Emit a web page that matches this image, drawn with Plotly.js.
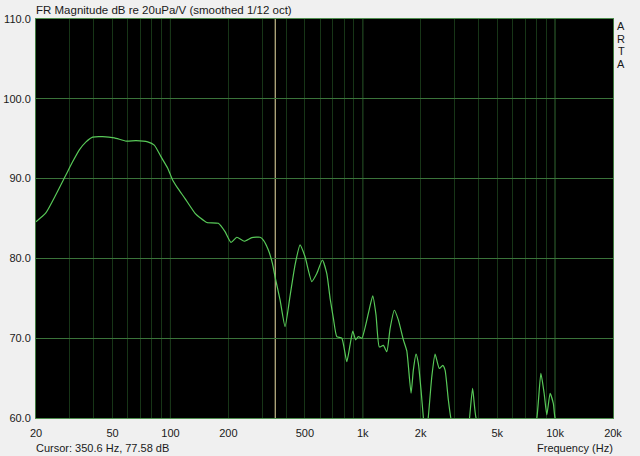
<!DOCTYPE html>
<html>
<head>
<meta charset="utf-8">
<script src="https://cdn.plot.ly/plotly-3.0.1.min.js"></script>
<style>html,body{margin:0;padding:0;background:#f0f0f0;}#chart{width:640px;height:456px;}</style>
</head>
<body>
<div id="chart"></div>
<script>
// Frequency (Hz) of curve samples
const freqHz = [20, 22.5, 25.4, 28.6, 31.0, 33.6, 36.4, 39.4, 44.4, 51.1,
  58.8, 66.2, 76.2, 82.4, 89.3, 96.8, 102.8, 109.1, 119.1, 134.3,
  142.5, 154.5, 177.4, 192.3, 206.6, 221.3, 242.2, 264.8, 292.4, 304.2,
  322.9, 338.8, 350.6, 371.5, 394.5, 418.8, 444.6, 472.0, 501.2, 543.2,
  576.7, 616.6, 650.2, 676.2, 703.2, 732.8, 778.0, 826.0, 859.0, 887.2,
  918.4, 948.4, 988.6, 1069, 1127, 1172, 1219, 1279, 1334, 1387,
  1459, 1531, 1626, 1694, 1783, 1832, 1892, 1945, 2009, 2066,
  2118, 2193, 2286, 2377, 2500, 2606, 2679, 2786, 2870, 3206,
  3483, 3590, 3724, 3882, 4592, 5834, 7413, 8035, 8433, 8770,
  9057, 9419, 9795, 10000, 11970, 15210, 20000];
// Magnitude (dB re 20uPa/V)
const magDb = [84.6, 85.7, 88.0, 90.45, 92.1, 93.6, 94.6, 95.2, 95.25, 95.1,
  94.7, 94.75, 94.6, 94.2, 92.75, 91.3, 89.8, 88.8, 87.5, 85.65,
  85.1, 84.5, 84.4, 83.35, 82.0, 82.65, 82.15, 82.6, 82.65, 82.3,
  81.05, 79.4, 77.58, 74.8, 71.45, 75.3, 79.2, 81.7, 80.2, 77.1,
  78.1, 79.8, 78.1, 75.0, 72.5, 70.2, 70.0, 67.05, 69.15, 70.9,
  69.8, 70.2, 70.0, 73.1, 75.3, 72.9, 68.9, 69.1, 68.3, 71.2,
  73.5, 72.3, 69.8, 68.4, 63.1, 66.0, 68.0, 66.85, 63.5, 60.0,
  57, 60.2, 65.2, 68.0, 66.2, 66.6, 66.0, 62.25, 60.0, 55,
  57.5, 60.0, 63.7, 60.0, 56, 55, 57, 60.0, 65.6, 63.1,
  60.4, 63.1, 61.8, 60.0, 56, 54, 53];

const xTickVals = [20, 50, 100, 200, 500, 1000, 2000, 5000, 10000, 20000];
const xTickText = ['20', '50', '100', '200', '500', '1k', '2k', '5k', '10k', '20k'];
const decadeLines = [100, 1000, 10000];
const cursorFreq = 350.6;
const cursorDb = 77.58;

// gridline positions: 1..9 x each decade from 20 Hz to 20 kHz
const gridVals = [];
[10, 100, 1000, 10000].forEach(d => {
  for (let m = 1; m <= 9; m++) { const v = m * d; if (v >= 20 && v <= 20000) gridVals.push(v); }
});
const gridText = gridVals.map(v => { const i = xTickVals.indexOf(v); return i >= 0 ? xTickText[i] : ''; });

const FONT = 'Liberation Sans, Arial, sans-serif';
const TXT = '#1a1a1a';

const shapes = decadeLines.map(f => ({
  type: 'line', xref: 'x', yref: 'paper', x0: f, x1: f, y0: 0, y1: 1,
  line: {color: '#3f7a3f', width: 1}, layer: 'between'
}));
shapes.push({type: 'line', xref: 'x', yref: 'paper', x0: cursorFreq, x1: cursorFreq, y0: 0, y1: 1,
  line: {color: '#ece0a6', width: 1}, layer: 'between'});

const annotations = [
  {text: 'FR Magnitude dB re 20uPa/V (smoothed 1/12 oct)', xref: 'paper', yref: 'paper', x: 0, y: 1,
   xanchor: 'left', yanchor: 'middle', yshift: 9, xshift: -2, showarrow: false, font: {family: FONT, size: 11.5, color: TXT}},
  {text: 'Cursor: ' + cursorFreq + ' Hz, ' + cursorDb + ' dB', xref: 'paper', yref: 'paper', x: 0, y: 0,
   xanchor: 'left', yanchor: 'middle', yshift: -30, xshift: -2, showarrow: false, font: {family: FONT, size: 11, color: TXT}},
  {text: 'Frequency (Hz)', xref: 'paper', yref: 'paper', x: 1, y: 0,
   xanchor: 'right', yanchor: 'middle', yshift: -30, xshift: 2, showarrow: false, font: {family: FONT, size: 11, color: TXT}}
];
['A', 'R', 'T', 'A'].forEach((ch, i) => annotations.push({
  text: ch, xref: 'paper', yref: 'paper', x: 1, y: 1, xanchor: 'center', yanchor: 'middle',
  xshift: 8, yshift: -(7 + 12.5 * i), showarrow: false, font: {family: FONT, size: 11, color: TXT}
}));

const trace = {
  x: freqHz, y: magDb, type: 'scatter', mode: 'lines',
  line: {color: '#58c958', width: 1.2, shape: 'spline', smoothing: 0.5}, hoverinfo: 'skip'
};

const layout = {
  width: 640, height: 456,
  margin: {l: 36, r: 27, t: 19, b: 38},
  paper_bgcolor: '#f0f0f0', plot_bgcolor: '#000000',
  showlegend: false,
  font: {family: FONT, size: 11, color: TXT},
  xaxis: {
    type: 'log', range: [Math.log10(20), Math.log10(20000)],
    tickmode: 'array', tickvals: gridVals, ticktext: gridText,
    showgrid: true, gridcolor: '#173517', gridwidth: 1,
    ticks: 'outside', ticklen: 5, tickcolor: 'rgba(0,0,0,0)',
    showline: true, mirror: true, linecolor: '#4f8f4f', linewidth: 1,
    zeroline: false, fixedrange: true
  },
  yaxis: {
    range: [60, 110], tickmode: 'array', tickvals: [60, 70, 80, 90, 100, 110],
    ticktext: ['60.0', '70.0', '80.0', '90.0', '100.0', '110.0'],
    showgrid: true, gridcolor: '#3a733a', gridwidth: 1,
    ticks: 'outside', ticklen: 2, tickcolor: 'rgba(0,0,0,0)',
    showline: true, mirror: true, linecolor: '#3f7a3f', linewidth: 1,
    zeroline: false, fixedrange: true
  },
  shapes: shapes,
  annotations: annotations
};

Plotly.newPlot('chart', [trace], layout, {staticPlot: true, displayModeBar: false});
</script>
</body>
</html>
